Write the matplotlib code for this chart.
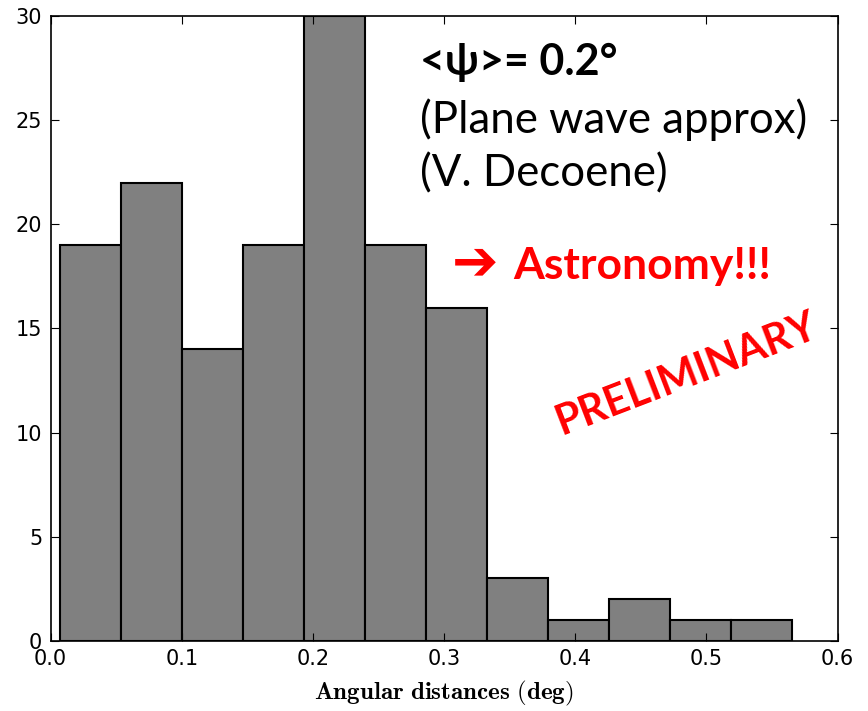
import matplotlib
matplotlib.use("Agg")
import matplotlib.pyplot as plt

# histogram of angular distances (deg), 12 equal bins
bin_start = 0.0072
bin_width = 0.0465
counts = [19, 22, 14, 19, 30, 19, 16, 3, 1, 2, 1, 1]

x_ticks = [0.0, 0.1, 0.2, 0.3, 0.4, 0.5, 0.6]
y_ticks = [0, 5, 10, 15, 20, 25, 30]

plt.rcParams["mathtext.fontset"] = "cm"

fig = plt.figure(figsize=(8.68, 7.11), dpi=100)
ax = fig.add_axes([0.0582, 0.0985, 0.9068, 0.879])

lefts = [bin_start + i * bin_width for i in range(len(counts))]
ax.bar(lefts, counts, width=bin_width, align="edge",
       color="#808080", edgecolor="black", linewidth=1.5)

ax.set_xlim(0, 0.6)
ax.set_ylim(0, 30)
ax.set_xticks(x_ticks)
ax.set_yticks(y_ticks)
ax.tick_params(direction="in", top=True, right=True, length=6,
               labelsize=15, pad=6)
for s in ax.spines.values():
    s.set_linewidth(1.2)
ax.set_xlabel(r"$\mathbf{Angular\ distances\ (deg)}$", fontsize=18, labelpad=7)

# annotations (slide overlay)
txt = ["Lato", "DejaVu Sans"]
ax.text(0.2816, 27.8, "<ψ>= 0.2°", fontsize=31, fontweight="bold",
        family=["Lato", "DejaVu Serif"], va="center", ha="left")
ax.text(0.2816, 25.0, "(Plane wave approx)", fontsize=31.5, family=txt,
        va="center", ha="left")
ax.text(0.2816, 22.4, "(V. Decoene)", fontsize=31.5, family=txt,
        va="center", ha="left")
ax.text(0.3235, 18.1, "➔", fontsize=40, fontweight="bold", color="red",
        family=["DejaVu Sans"], va="center", ha="center")
ax.text(0.353, 18.0, "Astronomy!!!", fontsize=32, fontweight="bold",
        color="red", family=txt, va="center", ha="left")
ax.text(0.485, 12.8, "PRELIMINARY", fontsize=30, fontweight="bold",
        color="red", family=txt, va="center", ha="center", rotation=21,
        rotation_mode="anchor")

fig.savefig("out.png", dpi=100)
